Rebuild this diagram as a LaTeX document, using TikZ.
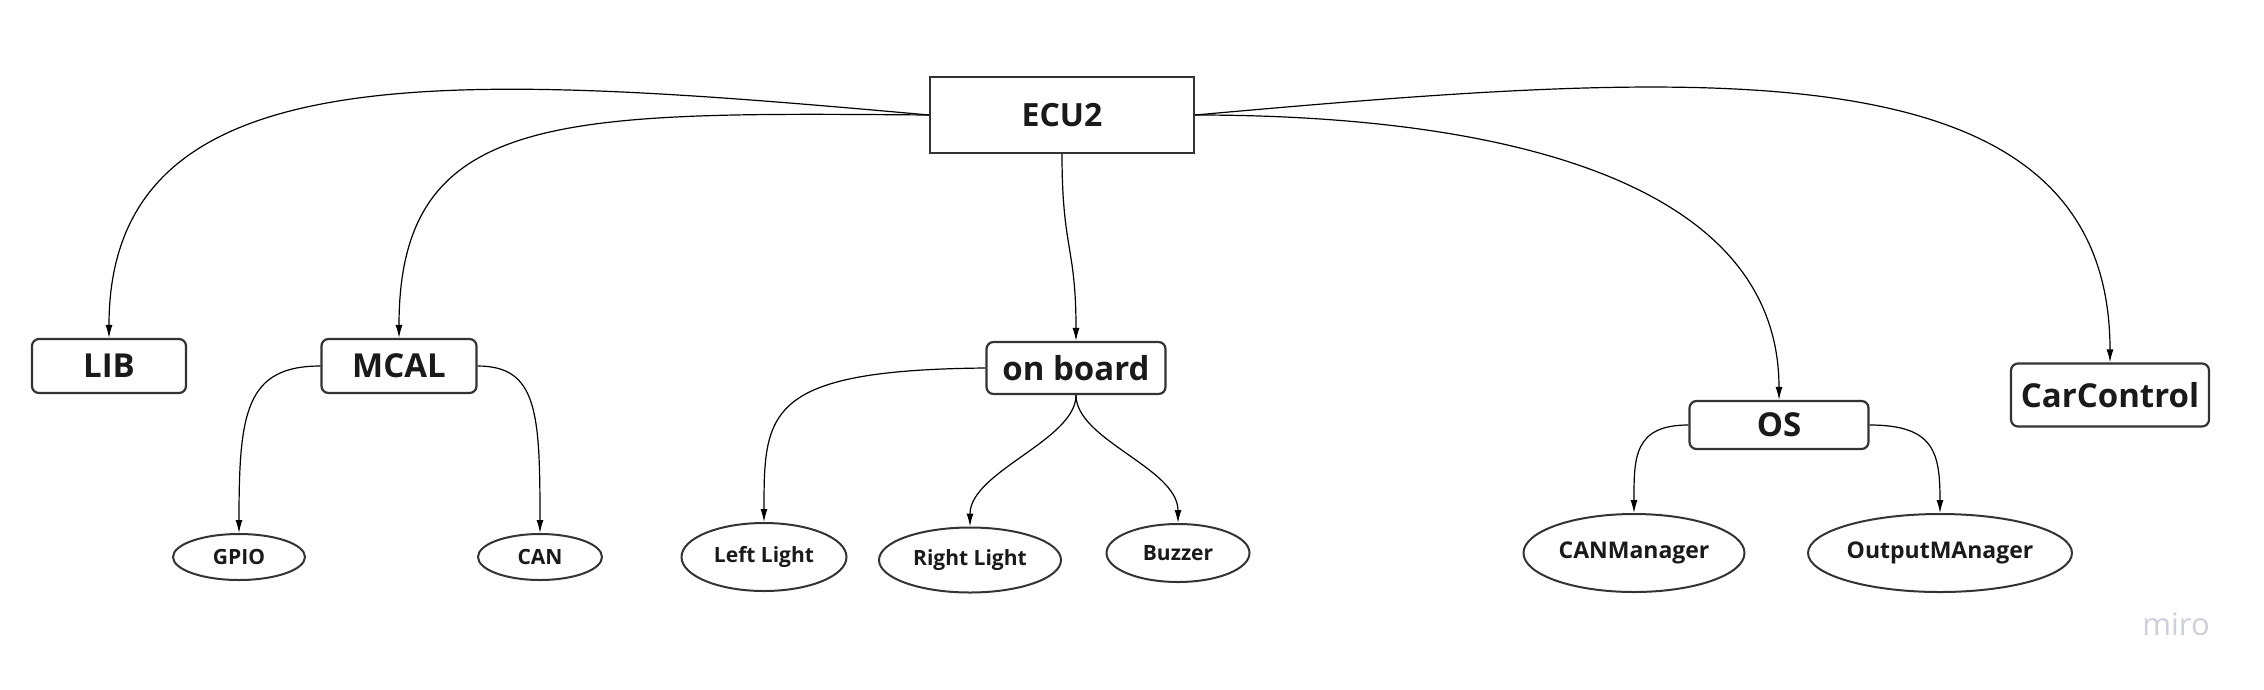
\documentclass[tikz,border=0pt]{standalone}
\usepackage{fontspec}
\setmainfont{Open Sans}
\usetikzlibrary{shapes.geometric,arrows.meta}
\definecolor{boxline}{HTML}{333333}
\definecolor{txt}{HTML}{1A1A1A}
\definecolor{wm}{HTML}{CDCFD9}
\tikzset{
  rbox/.style={draw=boxline, line width=2.2pt, rounded corners=7pt, inner sep=0pt, text=txt, font=\bfseries\fontsize{33}{38}\selectfont},
  sbox/.style={draw=boxline, line width=2.2pt, inner sep=0pt, text=txt, font=\bfseries\fontsize{32}{38}\selectfont},
  ell/.style={ellipse, draw=boxline, line width=2pt, inner sep=0pt, text=txt, font=\bfseries\fontsize{21}{26}\selectfont},
  conn/.style={draw=black, line width=1.2pt, -{Latex[length=13pt,width=7pt]}},
  plain/.style={draw=black, line width=1.2pt}
}
\begin{document}
\begin{tikzpicture}[x=1pt,y=-1pt]
\useasboundingbox (0,0) rectangle (2264,689);
% top
\node[sbox, minimum width=264pt, minimum height=76pt] (ecu) at (1062,115) {ECU2};
% second level
\node[rbox, minimum width=154pt, minimum height=54pt] (lib) at (109,366) {LIB};
\node[rbox, minimum width=155pt, minimum height=54pt] (mcal) at (399,366) {MCAL};
\node[rbox, minimum width=179pt, minimum height=52pt] (onb) at (1076,368) {on board};
\node[rbox, minimum width=179pt, minimum height=48pt] (os) at (1779,425) {OS};
\node[rbox, minimum width=198pt, minimum height=63pt] (car) at (2110,395) {CarControl};
% leaves
\node[ell, minimum width=132pt, minimum height=46pt] (gpio) at (239,557) {GPIO};
\node[ell, minimum width=124pt, minimum height=46pt] (can) at (540,557) {CAN};
\node[ell, minimum width=165pt, minimum height=68pt] (ll) at (764,557) {Left Light};
\node[ell, minimum width=182pt, minimum height=65pt] (rl) at (970,560) {Right Light};
\node[ell, minimum width=143pt, minimum height=58pt] (bz) at (1178,553) {Buzzer};
\node[ell, font=\bfseries\fontsize{23}{28}\selectfont, minimum width=221pt, minimum height=78pt] (cm) at (1634,553) {CANManager};
\node[ell, font=\bfseries\fontsize{23}{28}\selectfont, minimum width=262pt, minimum height=78pt] (om) at (1940,553) {OutputMAnager};
% watermark
\node[text=wm, inner sep=0pt, font=\fontsize{31}{34}\selectfont] (miro) at (2176,624) {miro};
% connectors
\draw[conn] (ecu.west) .. controls (450,72) and (109,50) .. (lib.north);
\draw[conn] (ecu.west) .. controls (560,112) and (399,110) .. (mcal.north);
\draw[conn] (ecu.south) .. controls +(0,95) and +(0,-95) .. (onb.north);
\draw[conn] (ecu.east) .. controls (1500,115) and (1779,180) .. (os.north);
\draw[conn] (ecu.east) .. controls (1700,70) and (2110,40) .. (car.north);
\draw[conn] (mcal.west) .. controls +(-75,0) and +(0,-120) .. (gpio.north);
\draw[conn] (mcal.east) .. controls +(60,0) and +(0,-120) .. (can.north);
\draw[conn] (onb.west) .. controls +(-220,2) and +(0,-110) .. (ll.north);
\draw[conn] (onb.south) .. controls +(0,45) and +(0,-55) .. (rl.north);
\draw[conn] (onb.south) .. controls +(0,45) and +(0,-55) .. (bz.north);
\draw[conn] (os.west) .. controls +(-55,0) and +(0,-55) .. (cm.north);
\draw[conn] (os.east) .. controls +(65,0) and +(0,-60) .. (om.north);
\end{tikzpicture}
\end{document}
